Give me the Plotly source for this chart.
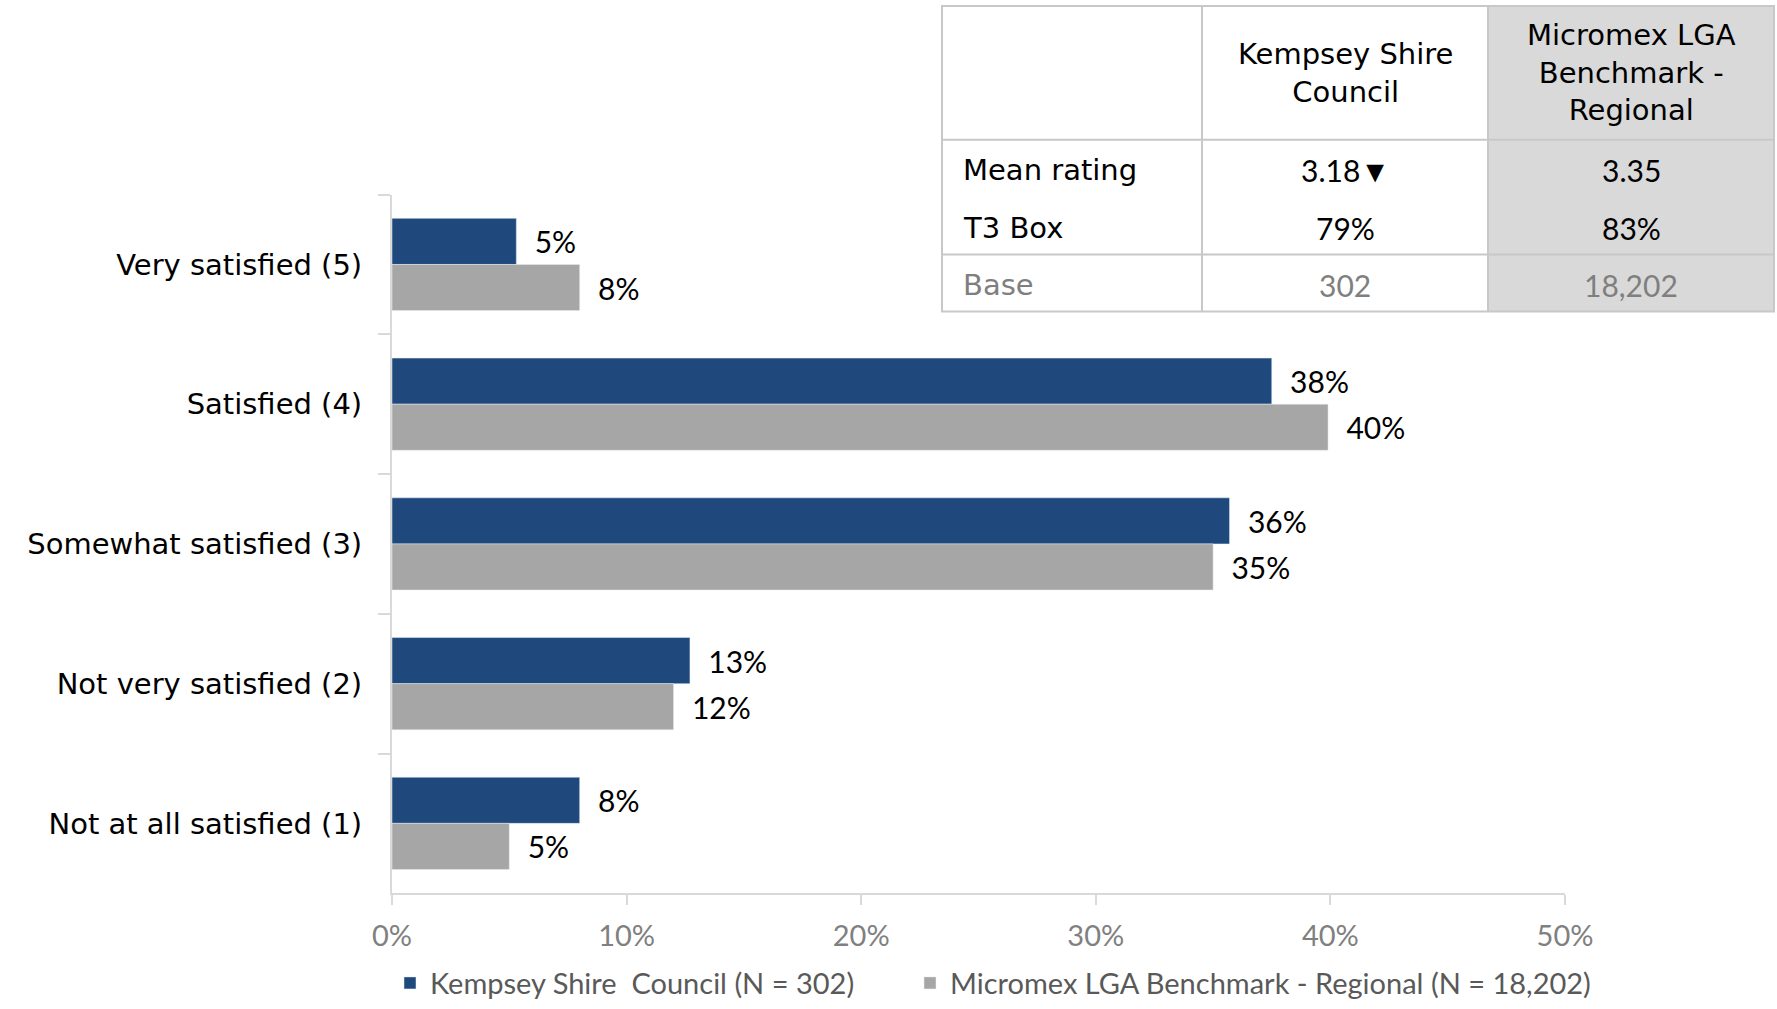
import plotly.graph_objects as go

W, H = 1777, 1009
def px(x): return x / W
def py(y): return 1 - y / H

categories = ["Very satisfied (5)", "Satisfied (4)", "Somewhat satisfied (3)",
              "Not very satisfied (2)", "Not at all satisfied (1)"]
kempsey = [5.3, 37.5, 35.7, 12.7, 8.0]
kempsey_labels = ["5%", "38%", "36%", "13%", "8%"]
benchmark = [8.0, 39.9, 35.0, 12.0, 5.0]
benchmark_labels = ["8%", "40%", "35%", "12%", "5%"]
series_names = ["Kempsey Shire  Council (N = 302)", "Micromex LGA Benchmark - Regional (N = 18,202)"]
x_ticks = [0, 10, 20, 30, 40, 50]
x_tick_labels = ["0%", "10%", "20%", "30%", "40%", "50%"]

table_header = ["", "Kempsey Shire<br>Council", "Micromex LGA<br>Benchmark -<br>Regional"]
table_rows = ["Mean rating", "T3 Box", "Base"]
table_kempsey = ["3.18▼", "79%", "302"]
table_benchmark = ["3.35", "83%", "18,202"]

FONT_TXT = "DejaVu Sans"
FONT_NUM = "Lato"
BLUE = "#1F497D"
GREY = "#A6A6A6"
pad = "\u00a0\u00a0"

fig = go.Figure()
fig.add_trace(go.Bar(y=categories, x=kempsey, orientation="h", name=series_names[0],
                     marker=dict(color=BLUE), text=[pad + t for t in kempsey_labels],
                     textposition="outside", constraintext="none", cliponaxis=False,
                     textfont=dict(family=FONT_NUM, size=30, color="#000000"),
                     showlegend=True, legend="legend"))
fig.add_trace(go.Bar(y=categories, x=benchmark, orientation="h", name=series_names[1],
                     marker=dict(color=GREY), text=[pad + t for t in benchmark_labels],
                     textposition="outside", constraintext="none", cliponaxis=False,
                     textfont=dict(family=FONT_NUM, size=30, color="#000000"),
                     showlegend=True, legend="legend2"))

shapes = []
annotations = []
tx0, tx1, tx2, tx3 = 942, 1202, 1488, 1774
ty0, ty1, ty2, ty3 = 6, 140, 255, 312
border = "#C8C8C8"
shapes.append(dict(type="rect", xref="paper", yref="paper", x0=px(tx2), x1=px(tx3), y0=py(ty3), y1=py(ty0),
                   fillcolor="#D9D9D9", line=dict(width=0), layer="below"))
shapes.append(dict(type="rect", xref="paper", yref="paper", x0=px(tx0), x1=px(tx3), y0=py(ty3), y1=py(ty0),
                   line=dict(color=border, width=2)))
for xx in (tx1, tx2):
    shapes.append(dict(type="line", xref="paper", yref="paper", x0=px(xx), x1=px(xx), y0=py(ty3), y1=py(ty0),
                       line=dict(color=border, width=2)))
for yy in (ty1, ty2):
    shapes.append(dict(type="line", xref="paper", yref="paper", x0=px(tx0), x1=px(tx3), y0=py(yy), y1=py(yy),
                       line=dict(color=border, width=2)))

hdr_y = 73
for i, h in enumerate(table_header):
    if not h:
        continue
    cx = (tx1 + tx2) / 2 if i == 1 else (tx2 + tx3) / 2
    annotations.append(dict(xref="paper", yref="paper", x=px(cx), y=py(hdr_y), text=h, showarrow=False,
                            xanchor="center", yanchor="middle", align="center",
                            font=dict(family=FONT_TXT, size=29, color="#000000")))
row_ys = [170, 228, 286]
for r, ry in enumerate(row_ys):
    col = "#7F7F7F" if r == 2 else "#000000"
    annotations.append(dict(xref="paper", yref="paper", x=px(961), y=py(ry), text=table_rows[r], showarrow=False,
                            xanchor="left", yanchor="middle", font=dict(family=FONT_TXT, size=29, color=col)))
    annotations.append(dict(xref="paper", yref="paper", x=px((tx1 + tx2) / 2), y=py(ry), text=table_kempsey[r],
                            showarrow=False, xanchor="center", yanchor="middle",
                            font=dict(family=FONT_NUM, size=30, color=col)))
    annotations.append(dict(xref="paper", yref="paper", x=px((tx2 + tx3) / 2), y=py(ry), text=table_benchmark[r],
                            showarrow=False, xanchor="center", yanchor="middle",
                            font=dict(family=FONT_NUM, size=30, color=col)))

legend_common = dict(orientation="h", y=py(985), xanchor="left", yanchor="middle",
                     font=dict(family=FONT_NUM, size=29, color="#595959"), itemwidth=30,
                     bgcolor="rgba(0,0,0,0)", visible=True)

fig.update_layout(
    width=W, height=H,
    margin=dict(l=0, r=0, t=0, b=0),
    paper_bgcolor="white", plot_bgcolor="white",
    barmode="group", bargap=0.34, bargroupgap=0,
    font=dict(family=FONT_TXT),
    showlegend=True,
    xaxis=dict(domain=[px(392), px(1565)], range=[0, 50], tickvals=x_ticks, ticktext=x_tick_labels,
               showgrid=False, zeroline=False, showline=True, linecolor="#D9D9D9", linewidth=2,
               ticks="outside", ticklen=10, tickcolor="#D9D9D9", tickwidth=2, ticklabelstandoff=6,
               tickfont=dict(family=FONT_NUM, size=29, color="#808080"), automargin=False),
    yaxis=dict(domain=[py(895), py(195)], autorange="reversed", showgrid=False, zeroline=False,
               showline=True, linecolor="#D9D9D9", linewidth=2, ticks="outside", tickson="boundaries",
               ticklen=12, tickcolor="#D9D9D9", tickwidth=2, ticklabelstandoff=22,
               tickfont=dict(family=FONT_TXT, size=29, color="#000000"), automargin=False),
    legend=dict(x=px(390), **legend_common),
    legend2=dict(x=px(910), **legend_common),
    shapes=shapes, annotations=annotations,
)

fig.write_html("out.html")
